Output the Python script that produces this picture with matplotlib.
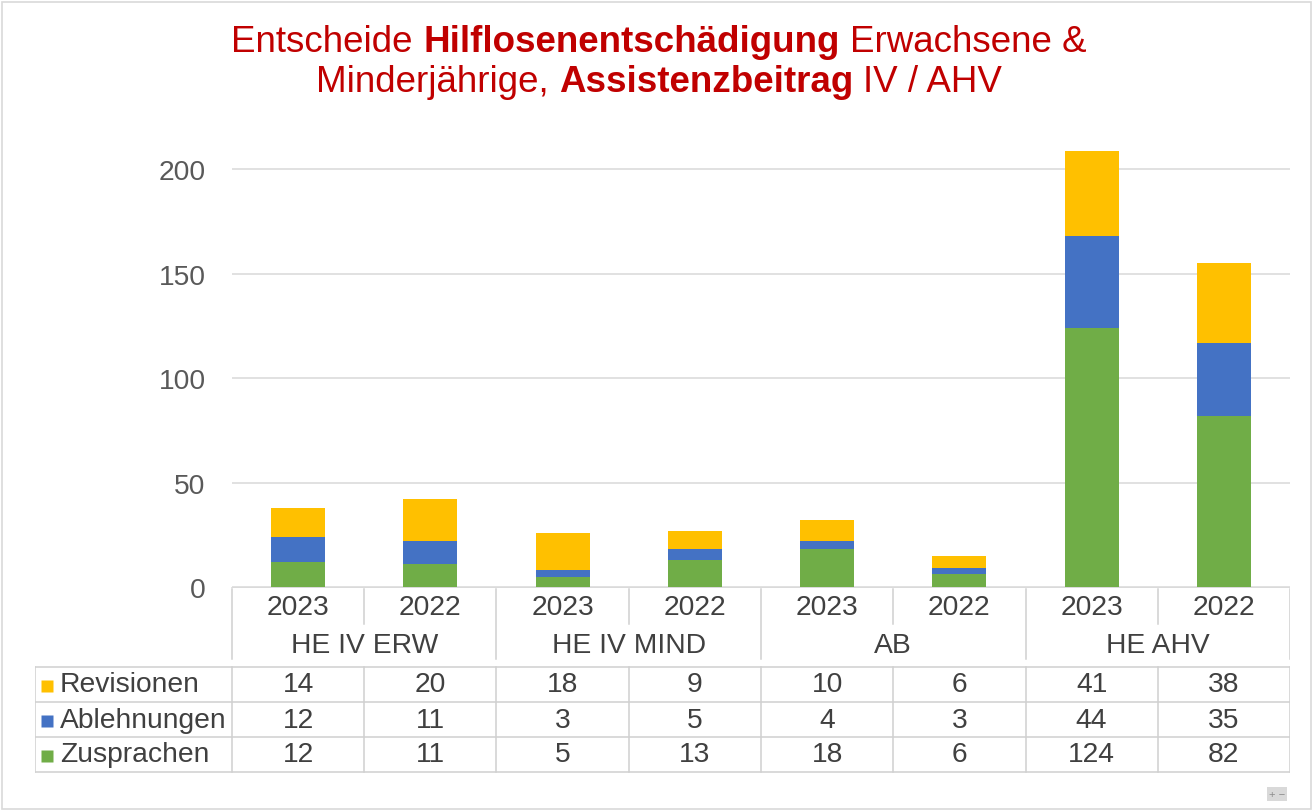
import matplotlib
matplotlib.use("Agg")
import matplotlib.pyplot as plt
from matplotlib.patches import Rectangle

plt.rcParams['font.family'] = ['Liberation Sans', 'DejaVu Sans']

# data
categories = ["HE IV ERW", "HE IV MIND", "AB", "HE AHV"]
years = ["2023", "2022", "2023", "2022", "2023", "2022", "2023", "2022"]
series_names = ["Revisionen", "Ablehnungen", "Zusprachen"]
revisionen = [14, 20, 18, 9, 10, 6, 41, 38]
ablehnungen = [12, 11, 3, 5, 4, 3, 44, 35]
zusprachen = [12, 11, 5, 13, 18, 6, 124, 82]
yticks = [0, 50, 100, 150, 200]

RED = "#C00000"
YEL = "#FFC000"
BLUE = "#4472C4"
GREEN = "#70AD47"
GREY = "#595959"
W, H = 1314, 812

fig = plt.figure(figsize=(W / 100, H / 100), dpi=100)

# main bar axes, pixel box 232..1290 x 139..588
ax = fig.add_axes([232 / W, 1 - 588 / H, (1290 - 232) / W, (588 - 139) / H])
x = list(range(len(years)))
bw = 0.41
ax.bar(x, zusprachen, bw, color=GREEN, zorder=3)
bottom2 = [z for z in zusprachen]
ax.bar(x, ablehnungen, bw, bottom=bottom2, color=BLUE, zorder=3)
bottom3 = [z + a for z, a in zip(zusprachen, ablehnungen)]
ax.bar(x, revisionen, bw, bottom=bottom3, color=YEL, zorder=3)
ax.set_xlim(-0.5, 7.5)
ax.set_ylim(0, 215)
ax.set_yticks(yticks)
ax.set_xticks([])
ax.tick_params(axis='y', length=0, labelsize=20.3, labelcolor=GREY, pad=19)
ax.grid(axis='y', color="#D9D9D9", lw=1.1, zorder=0)
for s in ax.spines.values():
    s.set_visible(False)

# data table below the bars, pixel box 35..1290 x 588..775
left_units = 0.5 + (232 - 35) / 132.25
tax = fig.add_axes([35 / W, 1 - 776 / H, (1290 - 35) / W, (776 - 588) / H])
tax.set_xlim(-0.5 - left_units + 0.5, 7.5)
tax.set_ylim(188, 0)
tax.axis('off')
LC = "#D0D0D0"
TC = "#404040"
fs = 20.3

# header: years and categories
for i, yr in enumerate(years):
    tax.text(i, 20, yr, ha='center', va='center', fontsize=fs, color=TC)
for g, cat in enumerate(categories):
    tax.text(2 * g + 0.5, 58, cat, ha='center', va='center', fontsize=fs, color=TC)
for xb in [0.5, 2.5, 4.5, 6.5]:
    tax.plot([xb, xb], [2, 37], color=LC, lw=1.1)
for xb in [-0.5, 1.5, 3.5, 5.5, 7.5]:
    tax.plot([xb, xb], [2, 72], color=LC, lw=1.1)
tax.plot([-0.5, 7.5], [0, 0], color=LC, lw=1.1)

# table rows
rows_top = [80, 115, 150]
xleft = tax.get_xlim()[0]
for ry in rows_top + [185]:
    tax.plot([xleft, 7.5], [ry, ry], color=LC, lw=1.1)
for xb in [xleft, -0.5, 0.5, 1.5, 2.5, 3.5, 4.5, 5.5, 6.5, 7.5]:
    tax.plot([xb, xb], [80, 185], color=LC, lw=1.1)

row_vals = [revisionen, ablehnungen, zusprachen]
row_cols = [YEL, BLUE, GREEN]
for name, vals, col, top in zip(series_names, row_vals, row_cols, rows_top):
    cy = top + 17.5
    sq_x = -0.5 - (232 - 47) / 132.25
    tax.plot([sq_x], [cy + 1], marker='s', ms=8, color=col, mec='none')
    tax.text(-0.5 - (232 - 60) / 132.25, cy, name, ha='left', va='center',
             fontsize=fs, color=TC)
    for i, v in enumerate(vals):
        tax.text(i, cy, str(v), ha='center', va='center', fontsize=fs, color=TC)

# title with bold parts, centered
renderer = fig.canvas.get_renderer()
TFS = 26.5


def rich_line(yfrac, parts, cx=659):
    sp = fig.text(0, 0, "a a", fontsize=TFS)
    nsp = fig.text(0, 0, "aa", fontsize=TFS)
    space = sp.get_window_extent(renderer).width - nsp.get_window_extent(renderer).width
    sp.remove()
    nsp.remove()
    texts, widths = [], []
    for s, bold in parts:
        t = fig.text(0, yfrac, s, fontsize=TFS, color=RED, va='center',
                     weight='bold' if bold else 'normal')
        texts.append(t)
        widths.append(t.get_window_extent(renderer).width)
    total = sum(widths) + space * (len(parts) - 1)
    xp = cx - total / 2
    for t, w in zip(texts, widths):
        t.set_x(xp / W)
        xp += w + space


rich_line(1 - 42 / H, [("Entscheide", False), ("Hilflosenentschädigung", True),
                       ("Erwachsene &", False)])
rich_line(1 - 82 / H, [("Minderjährige,", False), ("Assistenzbeitrag", True),
                       ("IV / AHV", False)])

# outer frame and small zoom control
fig.patches.append(Rectangle((2 / W, 2 / H), 1 - 5 / W, 1 - 5 / H, fill=False,
                             ec="#D9D9D9", lw=1.2, transform=fig.transFigure))
fig.text(1277 / W, 1 - 795 / H, "+ −", ha='center', va='center', fontsize=8,
         color="#8C8C8C", bbox=dict(boxstyle='square,pad=0.2', fc="#D9D9D9", ec='none'))

fig.savefig("out.png", dpi=100)
